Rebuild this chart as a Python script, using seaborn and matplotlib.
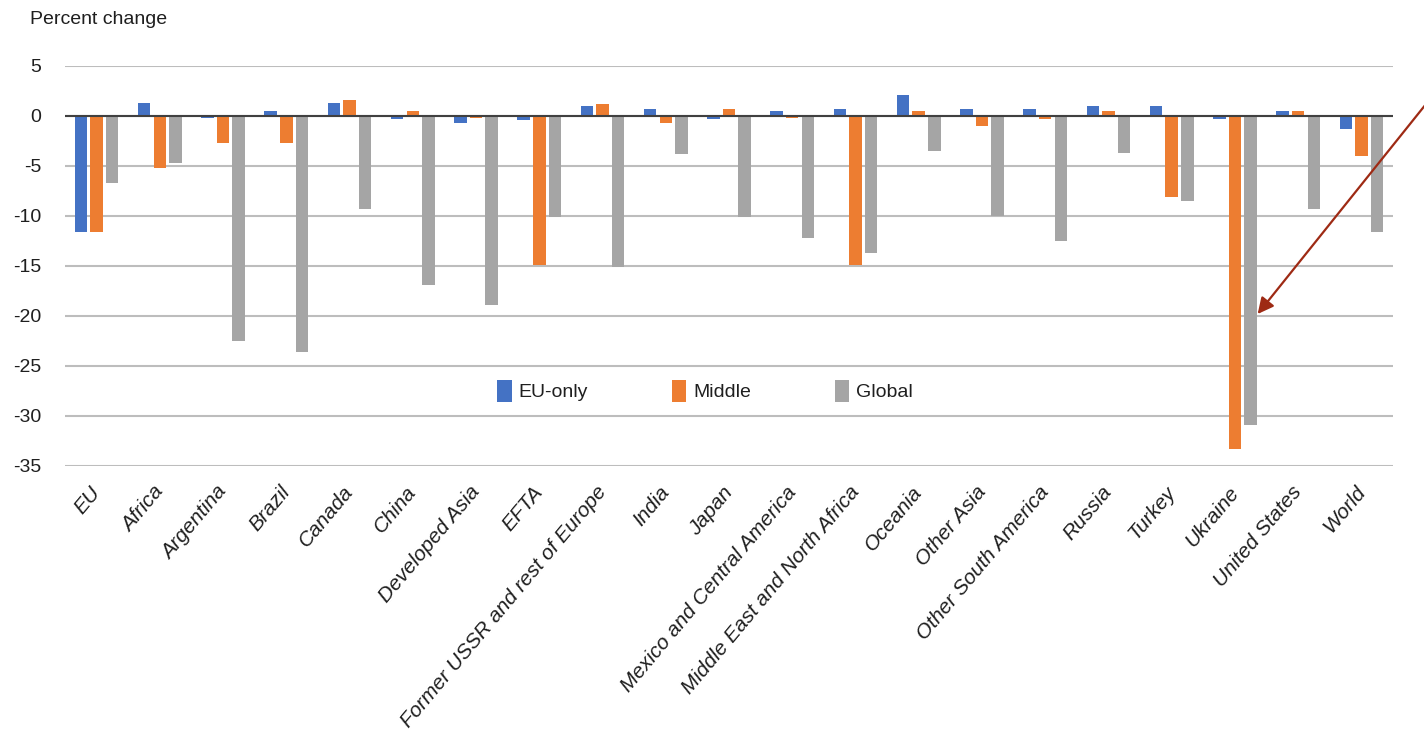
import matplotlib
matplotlib.use("Agg")
import matplotlib.pyplot as plt
import matplotlib.transforms as mtransforms
import seaborn as sns
import pandas as pd

# Regions shown on the horizontal axis
regions = [
    "EU", "Africa", "Argentina", "Brazil", "Canada", "China", "Developed Asia",
    "EFTA", "Former USSR and rest of Europe", "India", "Japan",
    "Mexico and Central America", "Middle East and North Africa", "Oceania",
    "Other Asia", "Other South America", "Russia", "Turkey", "Ukraine",
    "United States", "World",
]

# Percent change by scenario
eu_only = [-11.6, 1.3, -0.2, 0.5, 1.3, -0.3, -0.7, -0.4, 1.0, 0.7, -0.3,
           0.5, 0.7, 2.1, 0.7, 0.7, 1.0, 1.0, -0.3, 0.5, -1.3]
middle = [-11.6, -5.2, -2.7, -2.7, 1.6, 0.5, -0.2, -14.9, 1.2, -0.7, 0.7,
          -0.2, -14.9, 0.5, -1.0, -0.3, 0.5, -8.1, -33.3, 0.5, -4.0]
global_ = [-6.7, -4.7, -22.5, -23.6, -9.3, -16.9, -18.9, -10.1, -15.1, -3.8,
           -10.1, -12.2, -13.7, -3.5, -10.0, -12.5, -3.7, -8.5, -30.9, -9.3,
           -11.6]

scenarios = ["EU-only", "Middle", "Global"]
colors = ["#4472C4", "#ED7D31", "#A5A5A5"]
y_ticks = [5, 0, -5, -10, -15, -20, -25, -30, -35]

df = pd.DataFrame({
    "region": regions * 3,
    "scenario": [s for s in scenarios for _ in regions],
    "value": eu_only + middle + global_,
})

sns.set_theme(style="white")
plt.rcParams["font.family"] = ["Liberation Sans Narrow", "Liberation Sans",
                               "DejaVu Sans"]
text_color = "#1F1F1F"

fig = plt.figure(figsize=(14.24, 7.37), dpi=100)
ax = fig.add_axes([65 / 1424, 1 - 466 / 737, (1393 - 65) / 1424, 400 / 737])

sns.barplot(
    data=df, x="region", y="value", hue="scenario", order=regions,
    hue_order=scenarios, palette=colors, saturation=1, width=0.74, gap=0.2,
    linewidth=0, ax=ax,
)

ax.set_ylim(-35, 5)
ax.set_xlim(-0.5, len(regions) - 0.5)
ax.set_yticks(y_ticks)
ax.set_yticklabels([str(t) for t in y_ticks], fontsize=14, color=text_color)
ax.tick_params(axis="y", length=0, pad=17)
ax.tick_params(axis="x", length=0, pad=12)
ax.set_xticks(range(len(regions)))
ax.set_xticklabels(regions, rotation=50, ha="right", rotation_mode="anchor",
                   fontsize=15, style="italic", color=text_color)
# nudge the slanted region names slightly left of their ticks
shift = mtransforms.ScaledTranslation(-7 / 100, 0, fig.dpi_scale_trans)
for lbl in ax.get_xticklabels():
    lbl.set_transform(lbl.get_transform() + shift)
ax.set_xlabel("")
ax.set_ylabel("")

ax.set_axisbelow(True)
ax.yaxis.grid(True, color="#BDBDBD", linewidth=1.5)
ax.axhline(0, color="#404040", linewidth=1.5, zorder=3)
for side in ax.spines.values():
    side.set_visible(False)

handles, labels = ax.get_legend_handles_labels()
ax.legend(
    handles, labels, loc="center", bbox_to_anchor=(0.482, 0.1875), ncol=3,
    frameon=False, fontsize=14, handlelength=0.75, handleheight=1.4,
    handletextpad=0.35, columnspacing=4.3, labelcolor=text_color,
)

fig.text(30 / 1424, 1 - 19 / 737, "Percent change", fontsize=14,
         color=text_color, ha="left", va="center")

# Pointer to the Ukraine bars
ax.annotate(
    "", xy=(18.36, -19.8), xycoords="data",
    xytext=(1.002, 1 - 103 / 737), textcoords="figure fraction",
    arrowprops=dict(arrowstyle="-|>", color="#9E2A14", lw=1.6,
                    mutation_scale=24, shrinkA=0, shrinkB=0),
    annotation_clip=False,
)

fig.savefig("out.png", dpi=100, facecolor="white")
